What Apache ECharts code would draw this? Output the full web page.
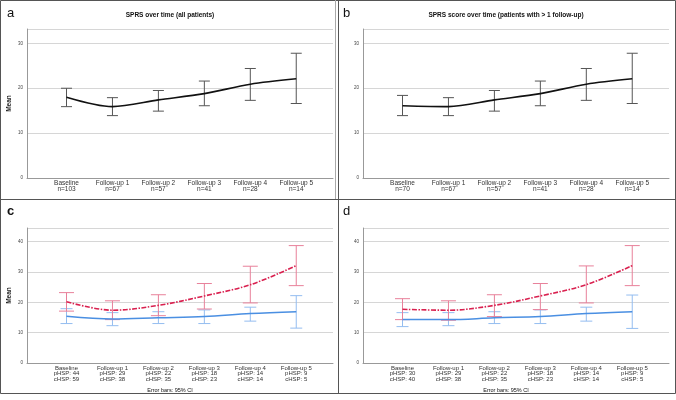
<!DOCTYPE html>
<html>
<head>
<meta charset="utf-8">
<script src="https://cdn.jsdelivr.net/npm/echarts@6/dist/echarts.min.js"></script>
<style>
  html, body { margin: 0; padding: 0; background: #fff; }
  #main { width: 676px; height: 400px; }
</style>
</head>
<body>
<div id="main"></div>
<script>
var categories = ["Baseline", "Follow-up 1", "Follow-up 2", "Follow-up 3", "Follow-up 4", "Follow-up 5"];

// panel a: all patients
var nAll = [103, 67, 57, 41, 28, 14];
var meanAll = [18.0, 15.9, 17.4, 18.8, 20.9, 22.1];
var lowAll = [15.9, 13.9, 14.9, 16.1, 17.3, 16.6];
var highAll = [20.0, 17.9, 19.5, 21.6, 24.4, 27.8];

// panel b: patients with > 1 follow-up
var nSub = [70, 67, 57, 41, 28, 14];
var meanSub = [16.1, 15.9, 17.4, 18.8, 20.9, 22.1];
var lowSub = [13.9, 13.9, 14.9, 16.1, 17.3, 16.6];
var highSub = [18.4, 17.9, 19.5, 21.6, 24.4, 27.8];

// panel c
var pHspAll = [44, 29, 22, 18, 14, 9];
var cHspAll = [59, 38, 35, 23, 14, 5];
var pMeanC = [20.2, 17.4, 19.0, 22.1, 25.8, 32.1];
var pLowC = [17.1, 14.3, 15.6, 17.8, 19.8, 25.5];
var pHighC = [23.2, 20.5, 22.5, 26.2, 31.9, 38.7];
var cMeanC = [15.4, 14.5, 14.9, 15.3, 16.3, 16.9];
var cLowC = [13.0, 12.3, 13.0, 13.0, 13.8, 11.5];
var cHighC = [17.9, 16.6, 16.9, 17.5, 18.4, 22.2];

// panel d
var pHspSub = [30, 29, 22, 18, 14, 9];
var cHspSub = [40, 38, 35, 23, 14, 5];
var pMeanD = [17.7, 17.4, 19.0, 22.1, 25.8, 32.1];
var pLowD = [14.3, 14.1, 15.3, 17.6, 19.8, 25.5];
var pHighD = [21.2, 20.5, 22.5, 26.2, 32.0, 38.7];
var cMeanD = [14.3, 14.3, 14.9, 15.3, 16.3, 16.9];
var cLowD = [12.0, 12.3, 13.0, 13.0, 13.8, 11.4];
var cHighD = [16.6, 16.6, 16.9, 17.5, 18.4, 22.4];

var yTicks = [0, 10, 20, 30, 40];

var FONT = "Liberation Sans";

function pts(arr){
  var out = [];
  for(var i = 0; i < arr.length; i++){ out.push([i, arr[i]]); }
  return out;
}
function bars(lo, hi){
  var out = [];
  for(var i = 0; i < lo.length; i++){ out.push([i, lo[i], hi[i]]); }
  return out;
}
function errRender(color, half){
  return function(params, api){
    var x = api.value(0);
    var a = api.coord([x, api.value(2)]);
    var b = api.coord([x, api.value(1)]);
    var st = { stroke: color, lineWidth: 1 };
    return { type: "group", children: [
      { type: "line", shape: { x1: a[0], y1: a[1], x2: b[0], y2: b[1] }, style: st },
      { type: "line", shape: { x1: a[0] - half, y1: a[1], x2: a[0] + half, y2: a[1] }, style: st },
      { type: "line", shape: { x1: b[0] - half, y1: b[1], x2: b[0] + half, y2: b[1] }, style: st }
    ]};
  };
}
function labelsN(ns){
  return function(v){
    var i = Math.round(v);
    return categories[i] + "\nn=" + ns[i];
  };
}
function labelsHsp(p, c){
  return function(v){
    var i = Math.round(v);
    return categories[i] + "\npHSP: " + p[i] + "\ncHSP: " + c[i];
  };
}

function xAx(idx, fmt, fs, lh){
  return {
    type: "value", gridIndex: idx, min: -0.86, max: 5.8,
    axisLine: { show: true, onZero: false, lineStyle: { color: "#999", width: 1 } },
    axisTick: { show: false },
    splitLine: { show: false },
    axisLabel: {
      customValues: [0, 1, 2, 3, 4, 5], formatter: fmt,
      fontFamily: FONT, fontSize: fs, lineHeight: lh, color: "#333", margin: 2
    }
  };
}
function yAx(idx, max, name){
  return {
    type: "value", gridIndex: idx, min: 0, max: max, interval: 10,
    name: name, nameLocation: "middle", nameGap: 14, nameRotate: 90,
    nameTextStyle: { fontFamily: FONT, fontSize: 6.5, fontWeight: "bold", color: "#222" },
    axisLine: { show: true, onZero: false, lineStyle: { color: "#999", width: 1 } },
    axisTick: { show: false },
    splitLine: { show: true, lineStyle: { color: "#d6d6d6", width: 1 } },
    axisLabel: {
      customValues: yTicks.filter(function(t){ return t <= max; }),
      fontFamily: FONT, fontSize: 4.5, color: "#444", margin: 4
    }
  };
}

var RED = "#d9204f", RED_BAR = "#e8809a";
var BLUE = "#4a8fe2", BLUE_BAR = "#94bdf0";

var series = [
  { type: "custom", xAxisIndex: 0, yAxisIndex: 0, data: bars(lowAll, highAll), renderItem: errRender("#555", 5.5), z: 2 },
  { type: "line", xAxisIndex: 0, yAxisIndex: 0, data: pts(meanAll), smooth: 0.3, symbol: "none",
    lineStyle: { color: "#111", width: 1.6 }, z: 3 },
  { type: "custom", xAxisIndex: 1, yAxisIndex: 1, data: bars(lowSub, highSub), renderItem: errRender("#555", 5.5), z: 2 },
  { type: "line", xAxisIndex: 1, yAxisIndex: 1, data: pts(meanSub), smooth: 0.3, symbol: "none",
    lineStyle: { color: "#111", width: 1.6 }, z: 3 },

  { type: "custom", xAxisIndex: 2, yAxisIndex: 2, data: bars(cLowC, cHighC), renderItem: errRender(BLUE_BAR, 6), z: 2 },
  { type: "custom", xAxisIndex: 2, yAxisIndex: 2, data: bars(pLowC, pHighC), renderItem: errRender(RED_BAR, 7.5), z: 2 },
  { type: "line", xAxisIndex: 2, yAxisIndex: 2, data: pts(cMeanC), smooth: 0.35, symbol: "none",
    lineStyle: { color: BLUE, width: 1.5 }, z: 3 },
  { type: "line", xAxisIndex: 2, yAxisIndex: 2, data: pts(pMeanC), smooth: 0.35, symbol: "none",
    lineStyle: { color: RED, width: 1.6, type: [5, 1.5, 1.5, 1.5] }, z: 4 },

  { type: "custom", xAxisIndex: 3, yAxisIndex: 3, data: bars(cLowD, cHighD), renderItem: errRender(BLUE_BAR, 6), z: 2 },
  { type: "custom", xAxisIndex: 3, yAxisIndex: 3, data: bars(pLowD, pHighD), renderItem: errRender(RED_BAR, 7.5), z: 2 },
  { type: "line", xAxisIndex: 3, yAxisIndex: 3, data: pts(cMeanD), smooth: 0.35, symbol: "none",
    lineStyle: { color: BLUE, width: 1.5 }, z: 3 },
  { type: "line", xAxisIndex: 3, yAxisIndex: 3, data: pts(pMeanD), smooth: 0.35, symbol: "none",
    lineStyle: { color: RED, width: 1.6, type: [5, 1.5, 1.5, 1.5] }, z: 4 }
];

function txt(x, y, s, size, weight, align){
  return { type: "text", x: x, y: y, z: 10,
    style: { text: s, fontFamily: FONT, fontSize: size, fontWeight: weight || "normal",
      fill: "#111", textAlign: align || "left", textVerticalAlign: "middle" } };
}
function ln(x1, y1, x2, y2, color){
  return { type: "line", z: 10, shape: { x1: x1, y1: y1, x2: x2, y2: y2 },
    style: { stroke: color, lineWidth: 1 } };
}

var graphics = [
  { type: "rect", z: 10, shape: { x: 0.5, y: 0.5, width: 675, height: 393 },
    style: { fill: "none", stroke: "#555", lineWidth: 1 } },
  ln(335.5, 0, 335.5, 199, "#aaa"),
  ln(338.5, 0, 338.5, 394, "#555"),
  ln(0, 199.5, 676, 199.5, "#555"),
  txt(7, 13, "a", 13),
  txt(343, 13, "b", 13),
  txt(7, 211, "c", 13, "bold"),
  txt(343, 211, "d", 13),
  txt(170, 15.5, "SPRS over time (all patients)", 6.5, "bold", "center"),
  txt(506, 15.5, "SPRS score over time (patients with > 1 follow-up)", 6.5, "bold", "center"),
  txt(170, 390.5, "Error bars: 95% CI", 5.5, "normal", "center"),
  txt(506, 390.5, "Error bars: 95% CI", 5.5, "normal", "center")
];

window.onload = function(){
  var chart = echarts.init(document.getElementById("main"), null, { renderer: "canvas" });
  chart.setOption({
    animation: false,
    backgroundColor: "#fff",
    grid: [
      { left: 27, top: 29, right: 343, bottom: 222 },
      { left: 363, top: 29, right: 7, bottom: 222 },
      { left: 27, top: 228, right: 343, bottom: 37 },
      { left: 363, top: 228, right: 7, bottom: 37 }
    ],
    xAxis: [
      xAx(0, labelsN(nAll), 6.5, 6.3),
      xAx(1, labelsN(nSub), 6.5, 6.3),
      xAx(2, labelsHsp(pHspAll, cHspAll), 6, 5.8),
      xAx(3, labelsHsp(pHspSub, cHspSub), 6, 5.8)
    ],
    yAxis: [
      yAx(0, 33.2, "Mean"),
      yAx(1, 33.2, ""),
      yAx(2, 44.5, "Mean"),
      yAx(3, 44.5, "")
    ],
    series: series,
    graphic: graphics
  });
};
</script>
</body>
</html>
